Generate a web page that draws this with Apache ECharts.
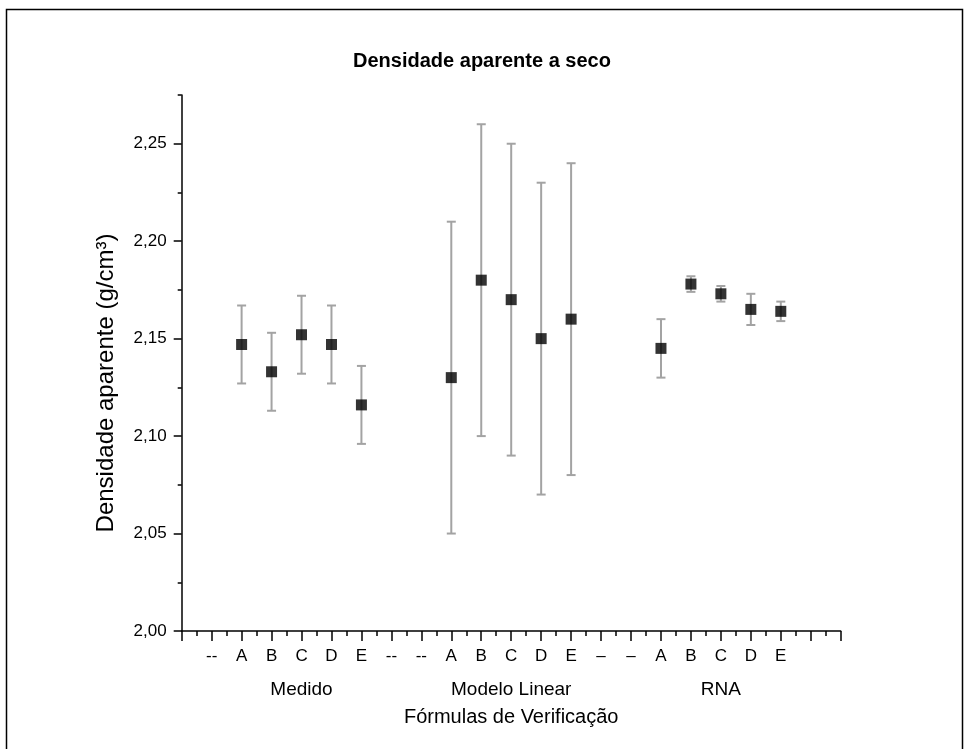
<!DOCTYPE html>
<html>
<head>
<meta charset="utf-8">
<script src="https://cdn.jsdelivr.net/npm/echarts@6/dist/echarts.min.js"></script>
<style>html,body{margin:0;padding:0;background:#fff}#c{width:964px;height:749px}</style>
</head>
<body>
<div id="c"></div>
<script>
const tickLabels = ['--','A','B','C','D','E','--','--','A','B','C','D','E','–','–','A','B','C','D','E'];
const groupNames = ['Medido','Modelo Linear','RNA'];
const groupCenters = [4, 11, 18];
const yTicks = [2.00, 2.05, 2.10, 2.15, 2.20, 2.25];

const medidoX = [2, 3, 4, 5, 6];
const medidoY = [2.147, 2.133, 2.152, 2.147, 2.116];
const medidoErr = [0.020, 0.020, 0.020, 0.020, 0.020];

const linearX = [9, 10, 11, 12, 13];
const linearY = [2.130, 2.180, 2.170, 2.150, 2.160];
const linearErr = [0.080, 0.080, 0.080, 0.080, 0.080];

const rnaX = [16, 17, 18, 19, 20];
const rnaY = [2.145, 2.178, 2.173, 2.165, 2.164];
const rnaErr = [0.015, 0.004, 0.004, 0.008, 0.005];

const FONT = "'Liberation Sans', Arial, sans-serif";
const allX = medidoX.concat(linearX, rnaX);
const allY = medidoY.concat(linearY, rnaY);
const allE = medidoErr.concat(linearErr, rnaErr);
const pts = allX.map((x, i) => [x, allY[i]]);
const errData = allX.map((x, i) => [x, allY[i], allE[i]]);

const chart = echarts.init(document.getElementById('c'), null, {renderer: 'canvas'});
chart.setOption({
  backgroundColor: '#fff',
  animation: false,
  title: {
    text: 'Densidade aparente a seco',
    left: 'center', top: 46,
    textStyle: {fontFamily: FONT, fontSize: 20, fontWeight: 'bold', color: '#000'}
  },
  graphic: [{
    type: 'rect', left: 4, top: 7, silent: true,
    shape: {width: 956, height: 760},
    style: {fill: 'none', stroke: '#000', lineWidth: 1.5}
  }],
  grid: {left: 181.7, right: 123.3, top: 95, bottom: 118, containLabel: false},
  xAxis: [{
    type: 'value', min: 0, max: 22, interval: 1, position: 'bottom',
    axisLine: {onZero: false, lineStyle: {color: '#000', width: 1.5}},
    axisTick: {length: 10, lineStyle: {color: '#000', width: 1.5}},
    minorTick: {show: true, splitNumber: 2, length: 5, lineStyle: {color: '#000', width: 1.5}},
    splitLine: {show: false},
    axisLabel: {
      margin: 17, fontFamily: FONT, fontSize: 17, color: '#000',
      formatter: v => tickLabels[v - 1] || ''
    }
  }, {
    type: 'value', min: 0, max: 22, interval: 1, position: 'bottom', offset: 42,
    axisLine: {show: false}, axisTick: {show: false}, splitLine: {show: false},
    axisLabel: {
      margin: 7, fontFamily: FONT, fontSize: 19, color: '#000',
      formatter: v => { const i = groupCenters.indexOf(v); return i >= 0 ? groupNames[i] : ''; }
    },
    name: 'Fórmulas de Verificação', nameLocation: 'middle', nameGap: 34,
    nameTextStyle: {fontFamily: FONT, fontSize: 20, color: '#000'}
  }],
  yAxis: [{
    type: 'value', min: 2.0, max: 2.275, interval: 0.025, position: 'left',
    axisLine: {show: true, onZero: false, lineStyle: {color: '#000', width: 1.5}},
    axisTick: {length: 4, lineStyle: {color: '#000', width: 1.5}},
    splitLine: {show: false},
    axisLabel: {
      margin: 15, fontFamily: FONT, fontSize: 17, color: '#000',
      customValues: yTicks,
      formatter: v => v.toFixed(2).replace('.', ',')
    },
    name: 'Densidade aparente (g/cm³)', nameLocation: 'middle', nameGap: 63,
    nameTextStyle: {fontFamily: FONT, fontSize: 24, color: '#000', padding: [0, 40, 0, 0]}
  }, {
    type: 'value', min: 2.0, max: 2.275, interval: 0.05, position: 'left',
    axisLine: {show: false}, splitLine: {show: false},
    axisLabel: {show: false},
    axisTick: {show: true, length: 8, customValues: yTicks, lineStyle: {color: '#000', width: 1.5}}
  }],
  series: [{
    type: 'custom', xAxisIndex: 0, yAxisIndex: 0, z: 2,
    data: errData,
    renderItem: function (params, api) {
      const x = api.value(0), y = api.value(1), e = api.value(2);
      const top = api.coord([x, y + e]);
      const bot = api.coord([x, y - e]);
      const hw = 4.5;
      const st = {stroke: '#a3a3a3', lineWidth: 2};
      return {type: 'group', children: [
        {type: 'line', shape: {x1: top[0], y1: top[1], x2: bot[0], y2: bot[1]}, style: st},
        {type: 'line', shape: {x1: top[0] - hw, y1: top[1], x2: top[0] + hw, y2: top[1]}, style: st},
        {type: 'line', shape: {x1: bot[0] - hw, y1: bot[1], x2: bot[0] + hw, y2: bot[1]}, style: st}
      ]};
    }
  }, {
    type: 'scatter', xAxisIndex: 0, yAxisIndex: 0, z: 3,
    symbol: 'rect', symbolSize: 11,
    itemStyle: {color: '#000'},
    data: pts
  }]
});
</script>
</body>
</html>
